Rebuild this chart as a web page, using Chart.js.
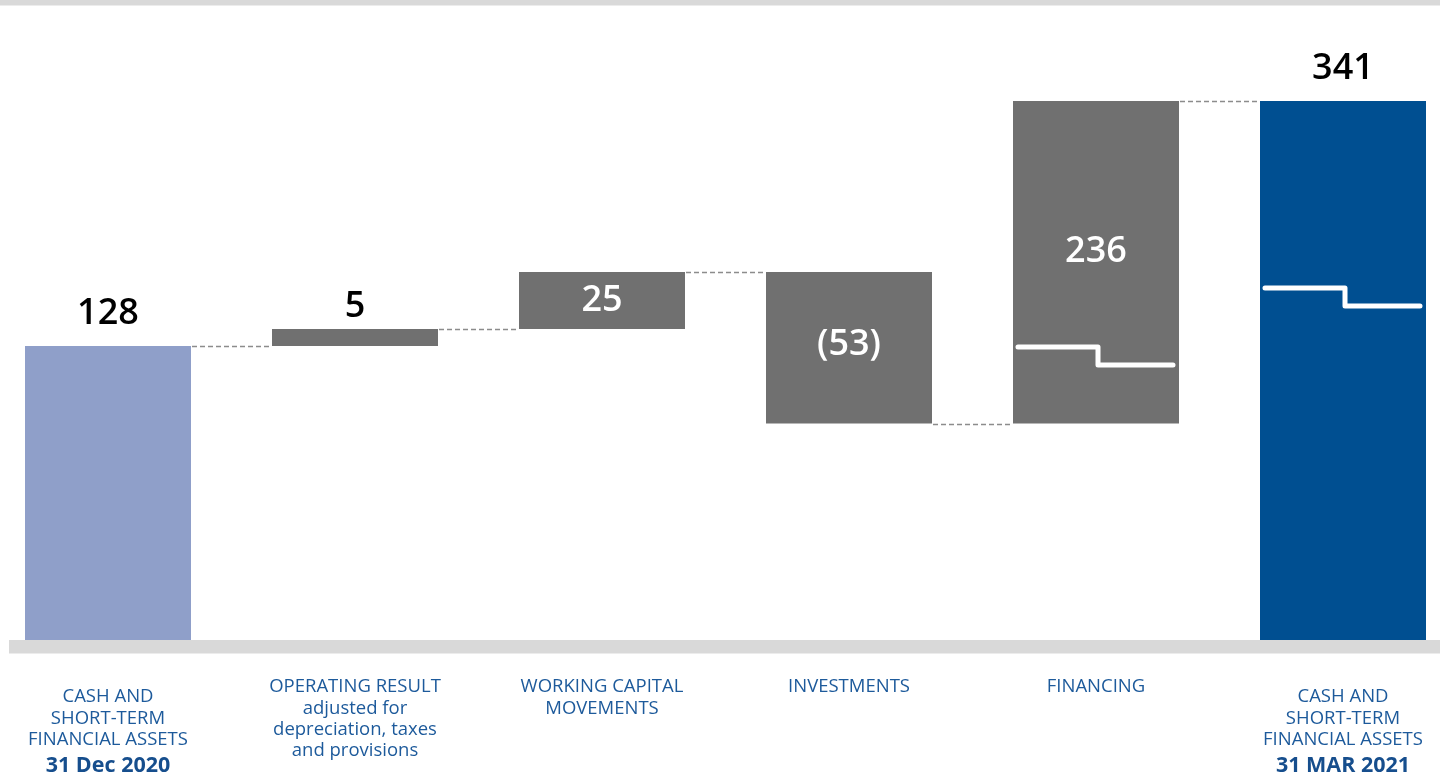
<!DOCTYPE html>
<html>
<head>
<meta charset="utf-8">
<script src="https://cdn.jsdelivr.net/npm/chart.js@4.4.1/dist/chart.umd.min.js"></script>
<style>
  body { margin: 0; background: #fff; }
  #wrap { width: 1440px; height: 776px; position: relative; }
</style>
</head>
<body>
<div id="wrap"><canvas id="cashflow"></canvas></div>
<script>
// data (EUR m)
const categories = [
    "CASH AND SHORT-TERM FINANCIAL ASSETS 31 Dec 2020",
    "OPERATING RESULT adjusted for depreciation, taxes and provisions",
    "WORKING CAPITAL MOVEMENTS",
    "INVESTMENTS",
    "FINANCING",
    "CASH AND SHORT-TERM FINANCIAL ASSETS 31 MAR 2021"
];
const categoryLines = [
    ["CASH AND", "SHORT-TERM", "FINANCIAL ASSETS"],
    ["OPERATING RESULT", "adjusted for", "depreciation, taxes", "and provisions"],
    ["WORKING CAPITAL", "MOVEMENTS"],
    ["INVESTMENTS"],
    ["FINANCING"],
    ["CASH AND", "SHORT-TERM", "FINANCIAL ASSETS"]
];
const dateLines = ["31 Dec 2020", "", "", "", "", "31 MAR 2021"];
const openingBalance = 128;
const movements = [5, 25, -53, 236];
const closingBalance = 341;

// the original axis is not to scale (it has breaks), so the y scale is piecewise:
// [value, units above the baseline]
const axisKnots = [[0, 0], [105, 216.5], [128, 294], [133, 311], [158, 368], [341, 539]];
// where the break symbols sit, in values
const breakAt = { 4: 125, 5: 147 };

// build waterfall ranges
let ranges = [[0, openingBalance]];
let levels = [openingBalance];
let level = openingBalance;
for (let i = 0; i < movements.length; i++) {
    ranges.push([level, level + movements[i]]);
    level += movements[i];
    levels.push(level);
}
ranges.push([0, closingBalance]);
levels.push(closingBalance);
let amounts = [openingBalance].concat(movements, [closingBalance]);

let colors = amounts.map((v, i) => {
    if (i == 0) return "#8f9fc9";
    if (i == amounts.length - 1) return "#004f91";
    return "#707070";
});

function fmt(v) {
    return v < 0 ? "(" + Math.abs(v) + ")" : String(v);
}

function warp(v) {
    const k = axisKnots;
    let i = 1;
    while (i < k.length - 1 && v > k[i][0]) i++;
    const a = k[i - 1], b = k[i];
    return a[1] + (v - a[0]) * (b[1] - a[1]) / (b[0] - a[0]);
}
function unwarp(u) {
    const k = axisKnots;
    let i = 1;
    while (i < k.length - 1 && u > k[i][1]) i++;
    const a = k[i - 1], b = k[i];
    return a[0] + (u - a[1]) * (b[0] - a[0]) / (b[1] - a[1]);
}

class BrokenScale extends Chart.LinearScale {
    getPixelForValue(value) {
        return super.getPixelForValue(warp(value));
    }
    getValueForPixel(pixel) {
        return unwarp(super.getValueForPixel(pixel));
    }
}
BrokenScale.id = "broken";
BrokenScale.defaults = Chart.LinearScale.defaults;
Chart.register(BrokenScale);

const decorations = {
    id: "decorations",
    beforeDatasetsDraw(chart) {
        const ctx = chart.ctx;
        ctx.save();
        ctx.fillStyle = "#d9d9d9";
        ctx.fillRect(0, 0, chart.width, 5.5);
        ctx.restore();
    },
    afterDatasetsDraw(chart) {
        const ctx = chart.ctx;
        const y = chart.scales.y;
        const x = chart.scales.x;
        const bars = chart.getDatasetMeta(0).data;
        ctx.save();

        // baseline band
        ctx.fillStyle = "#d9d9d9";
        ctx.fillRect(9, chart.chartArea.bottom, chart.width - 9, 13.5);

        // dashed connectors
        ctx.strokeStyle = "#8c8c8c";
        ctx.lineWidth = 1.6;
        ctx.setLineDash([5, 3]);
        for (let i = 0; i < bars.length - 1; i++) {
            const py = Math.round(y.getPixelForValue(levels[i])) + 0.5;
            ctx.beginPath();
            ctx.moveTo(bars[i].x + bars[i].width / 2 + 1, py);
            ctx.lineTo(bars[i + 1].x - bars[i + 1].width / 2 - 1, py);
            ctx.stroke();
        }
        ctx.setLineDash([]);

        // axis break symbols
        ctx.strokeStyle = "#ffffff";
        ctx.lineWidth = 5;
        ctx.lineCap = "round";
        ctx.lineJoin = "round";
        Object.keys(breakAt).forEach(k => {
            const b = bars[k];
            const py = y.getPixelForValue(breakAt[k]);
            const l = b.x - b.width / 2, r = b.x + b.width / 2;
            ctx.beginPath();
            ctx.moveTo(l + 5, py - 9);
            ctx.lineTo(b.x + 2, py - 9);
            ctx.lineTo(b.x + 2, py + 9);
            ctx.lineTo(r - 6, py + 9);
            ctx.stroke();
        });

        // value labels
        ctx.textAlign = "center";
        ctx.textBaseline = "alphabetic";
        bars.forEach((b, i) => {
            const top = Math.min(b.y, b.base);
            const h = Math.abs(b.base - b.y);
            if (h < 40) {
                ctx.fillStyle = "#000000";
                ctx.font = "600 36px 'Open Sans'";
                ctx.fillText(fmt(amounts[i]), b.x, top - 12);
            } else if (i == 0 || i == bars.length - 1) {
                ctx.fillStyle = "#000000";
                ctx.font = "600 36px 'Open Sans'";
                ctx.fillText(fmt(amounts[i]), b.x, top - 22);
            } else {
                ctx.fillStyle = "#ffffff";
                ctx.font = "600 36px 'Open Sans'";
                ctx.fillText(fmt(amounts[i]), b.x, top + h * 0.46 + 13);
            }
        });

        // category labels
        ctx.textBaseline = "middle";
        categories.forEach((c, i) => {
            const cx = x.getPixelForValue(i);
            let ly = dateLines[i] ? 697 : 687;
            ctx.fillStyle = "#1d5a9b";
            ctx.font = "18.5px 'Open Sans'";
            categoryLines[i].forEach(line => {
                ctx.fillText(line, cx, ly);
                ly += 21.3;
            });
            if (dateLines[i]) {
                ctx.fillStyle = "#164e8d";
                ctx.font = "bold 21.5px 'Open Sans'";
                ctx.fillText(dateLines[i], cx, ly + 4.5);
            }
        });
        ctx.restore();
    }
};

var option = {
    type: "bar",
    data: {
        labels: categories,
        datasets: [{
            label: "Cash flow",
            data: ranges,
            backgroundColor: colors,
            borderWidth: 0,
            barPercentage: 166 / 247,
            categoryPercentage: 1,
            clip: false
        }]
    },
    options: {
        responsive: true,
        maintainAspectRatio: false,
        animation: false,
        events: [],
        layout: { padding: { top: 20, bottom: 136, left: 108, right: 97 } },
        plugins: {
            legend: { display: false },
            tooltip: { enabled: false }
        },
        scales: {
            x: { display: false, offset: false },
            y: { type: "broken", display: false, min: 0, max: 620 }
        }
    },
    plugins: [decorations]
};

var ctx2 = document.getElementById("cashflow").getContext("2d");
var myChart2 = new Chart(ctx2, option);
</script>
</body>
</html>
